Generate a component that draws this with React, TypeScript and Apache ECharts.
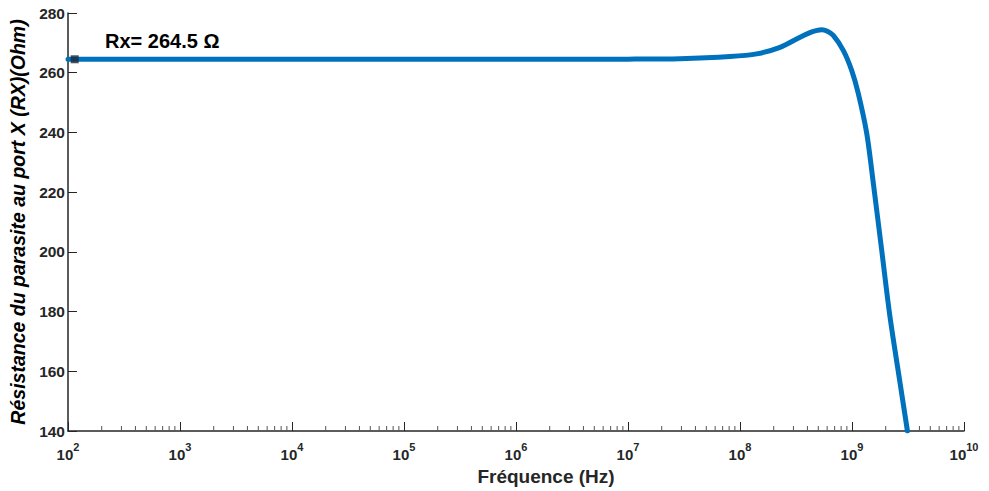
import React, { useEffect, useRef } from "react";
import * as echarts from "echarts";

// log10 of frequency (Hz) and resistance (Ohm)
const logFreq = [2, 4, 6, 7, 7.464, 7.911, 8.149, 8.357, 8.536, 8.63, 8.68, 8.73, 8.78, 8.833, 8.922, 8.997, 9.056, 9.131, 9.19, 9.265, 9.339, 9.429, 9.495];
const resistance = [264.5, 264.5, 264.5, 264.55, 264.7, 265.4, 266.3, 268.5, 271.9, 273.5, 274.1, 274.4, 273.9, 272.5, 267.5, 260.8, 253.1, 239.8, 223.1, 200.6, 178.3, 156.1, 140];

const markerPoint = [2.06, 264.5];
const markerLabel = "Rx= 264.5 Ω";

const decades = [2, 3, 4, 5, 6, 7, 8, 9, 10];
const minorMultipliers = [2, 3, 4, 5, 6, 7, 8, 9];

const xTitle = "Fréquence (Hz)";
const yTitle = "Résistance du parasite au port X (RX)(Ohm)";

const FONT = "'Liberation Sans', Arial, Helvetica, sans-serif";
const AXIS_COLOR = "#262626";

export default function App() {
  const ref = useRef<HTMLDivElement>(null);

  useEffect(() => {
    document.body.style.margin = "0";
    if (!ref.current) return;
    const chart = echarts.init(ref.current, undefined, { renderer: "svg" });

    const minorTicks: number[][] = [];
    for (let i = 0; i < decades.length - 1; i++) {
      for (const k of minorMultipliers) {
        minorTicks.push([decades[i] + Math.log10(k), 140]);
      }
    }

    const option: any = {
      animation: false,
      backgroundColor: "#ffffff",
      grid: { left: 68, right: 25, top: 13, bottom: 60, containLabel: false, outerBoundsMode: "none" },
      xAxis: {
        type: "value",
        min: 2,
        max: 10,
        interval: 1,
        name: xTitle,
        nameLocation: "middle",
        nameGap: 34,
        nameTextStyle: {
          fontFamily: FONT,
          fontWeight: "bold",
          fontSize: 19,
          color: AXIS_COLOR,
          padding: [0, 0, 0, 60],
        },
        axisLine: { show: true, onZero: false, lineStyle: { color: AXIS_COLOR, width: 1.5 } },
        axisTick: { show: true, inside: true, length: 9, lineStyle: { color: AXIS_COLOR, width: 1 } },
        splitLine: { show: false },
        axisLabel: {
          margin: 10,
          formatter: (v: number) => `{b|10}{s|${v}}`,
          rich: {
            b: { fontFamily: FONT, fontWeight: "bold", fontSize: 15, color: AXIS_COLOR, verticalAlign: "bottom", lineHeight: 21 },
            s: { fontFamily: FONT, fontWeight: "bold", fontSize: 11, color: AXIS_COLOR, verticalAlign: "top", lineHeight: 21 },
          },
        },
      },
      yAxis: {
        type: "value",
        min: 140,
        max: 280,
        interval: 20,
        name: yTitle,
        nameLocation: "middle",
        nameGap: 38,
        nameRotate: 90,
        nameTextStyle: {
          fontFamily: FONT,
          fontWeight: "bold",
          fontStyle: "italic",
          fontSize: 19.5,
          color: "#000000",
        },
        axisLine: { show: true, onZero: false, lineStyle: { color: AXIS_COLOR, width: 1.5 } },
        axisTick: { show: true, inside: true, length: 9, lineStyle: { color: AXIS_COLOR, width: 1 } },
        splitLine: { show: false },
        axisLabel: {
          margin: 3,
          fontFamily: FONT,
          fontWeight: "bold",
          fontSize: 15.5,
          color: AXIS_COLOR,
        },
      },
      graphic: [
        {
          type: "text",
          left: 105,
          top: 31,
          style: {
            text: markerLabel,
            fontFamily: FONT,
            fontWeight: "bold",
            fontSize: 20,
            fill: "#000000",
          },
        },
      ],
      series: [
        {
          type: "custom",
          silent: true,
          renderItem: (params: any, api: any) => {
            const p = api.coord([api.value(0), api.value(1)]);
            return {
              type: "line",
              shape: { x1: p[0], y1: p[1], x2: p[0], y2: p[1] - 5 },
              style: { stroke: "#555555", lineWidth: 1 },
            };
          },
          data: minorTicks,
          z: 1,
        },
        {
          type: "line",
          data: logFreq.map((x, i) => [x, resistance[i]]),
          smooth: 0.3,
          showSymbol: false,
          symbol: "none",
          clip: true,
          lineStyle: { color: "#0072BD", width: 5, cap: "round", join: "round" },
          z: 3,
        },
        {
          type: "scatter",
          data: [markerPoint],
          symbol: "rect",
          symbolSize: 8,
          itemStyle: { color: "#1b2a3a" },
          z: 5,
        },
      ],
    };

    chart.setOption(option);
    return () => chart.dispose();
  }, []);

  return <div ref={ref} style={{ width: 989, height: 491 }} />;
}
